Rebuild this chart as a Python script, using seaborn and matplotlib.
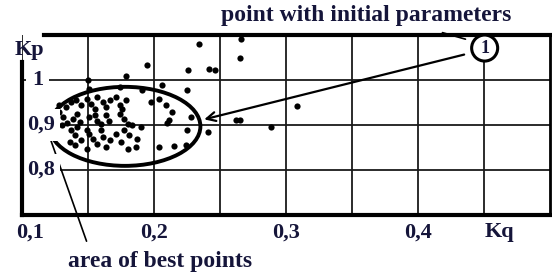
import matplotlib

matplotlib.use("Agg")
import matplotlib.pyplot as plt
import seaborn as sns
from matplotlib.patches import Ellipse

# scatter of tuning results (Kq, Kp)
kq = [
    0.195, 0.179, 0.226, 0.242, 0.246, 0.234, 0.266, 0.265, 0.225, 0.206,
    0.150, 0.308, 0.262, 0.265, 0.289, 0.241, 0.228, 0.225, 0.204, 0.215,
    0.224, 0.214, 0.209, 0.211, 0.210, 0.198, 0.204, 0.186, 0.187, 0.181,
    0.190, 0.183, 0.151, 0.174, 0.191,
    0.137, 0.141, 0.145, 0.149, 0.152, 0.155, 0.157, 0.161, 0.164, 0.167,
    0.171, 0.174, 0.176, 0.179,
    0.139, 0.142, 0.144, 0.151, 0.155, 0.157, 0.160, 0.164, 0.166, 0.174,
    0.177, 0.180,
    0.137, 0.140, 0.142, 0.145, 0.149, 0.151, 0.154, 0.157, 0.160, 0.161,
    0.164, 0.167, 0.171, 0.175, 0.177, 0.180, 0.136, 0.140, 0.149,
    0.128, 0.131, 0.133, 0.130, 0.134, 0.128,
]
kp = [
    1.033, 1.009, 1.022, 1.024, 1.022, 1.080, 1.091, 1.049, 0.978, 0.989,
    1.000, 0.942, 0.911, 0.911, 0.896, 0.884, 0.918, 0.889, 0.851, 0.853,
    0.856, 0.929, 0.944, 0.911, 0.904, 0.951, 0.958, 0.851, 0.869, 0.878,
    0.896, 0.900, 0.980, 0.984, 0.978,
    0.951, 0.955, 0.944, 0.958, 0.947, 0.936, 0.962, 0.951, 0.940, 0.955,
    0.962, 0.944, 0.936, 0.955,
    0.914, 0.925, 0.907, 0.918, 0.922, 0.910, 0.903, 0.922, 0.910, 0.925,
    0.914, 0.903,
    0.888, 0.877, 0.896, 0.866, 0.888, 0.881, 0.870, 0.858, 0.888, 0.873,
    0.851, 0.866, 0.881, 0.862, 0.888, 0.847, 0.862, 0.855, 0.847,
    0.930, 0.918, 0.940, 0.899, 0.905, 0.945,
]

grid_x = [0.1, 0.15, 0.2, 0.25, 0.3, 0.35, 0.4, 0.45]
x_labels = ["0,1", "0,2", "0,3", "0,4", "Kq"]
x_label_pos = [0.106, 0.2, 0.3, 0.4, 0.462]
y_ticks = [0.8, 0.9, 1.0]
y_labels = ["0,8", "0,9", "1"]
y_label_x = [0.009, 0.009, 0.019]

initial_kq, initial_kp = 0.4505, 1.071
best_center = (0.178, 0.897)
best_size = (0.1143, 0.1756)

TEXT = "#15153a"

sns.set_theme(style="white")
plt.rcParams["font.family"] = ["Liberation Serif", "DejaVu Serif"]
plt.rcParams["font.weight"] = "bold"

fig = plt.figure(figsize=(5.52, 2.72), dpi=100)
ax = fig.add_axes([22 / 552, 1 - 215 / 272, 528 / 552, 180 / 272])

sns.scatterplot(x=kq, y=kp, ax=ax, color="black", s=20, linewidth=0, zorder=3)

ax.set_xlim(0.1, 0.5)
ax.set_ylim(0.7, 1.1)
ax.set_xticks(grid_x)
ax.set_yticks(y_ticks)
ax.set_xticklabels([])
ax.set_yticklabels([])
ax.tick_params(length=0)
ax.grid(True, color="#1a1a1a", lw=1.3)
ax.set_axisbelow(True)

for side, lw in [("left", 3), ("bottom", 3), ("right", 2), ("top", 3)]:
    ax.spines[side].set_visible(True)
    ax.spines[side].set_color("black")
    ax.spines[side].set_linewidth(lw)
    ax.spines[side].set_zorder(6)
ax.spines["left"].set_bounds(0.7, 1.04)
ax.spines["top"].set_bounds(0.117, 0.5)

# tick labels, the y ones sit inside the frame on white
for pos, lab in zip(x_label_pos, x_labels):
    ax.text(pos, -0.095, lab, transform=ax.get_xaxis_transform(), ha="center",
            va="center", fontsize=16, color=TEXT)
for xpos, val, lab in zip(y_label_x, y_ticks, y_labels):
    ax.text(xpos, val, lab, transform=ax.get_yaxis_transform(), ha="left",
            va="center", fontsize=16, color=TEXT, zorder=5,
            bbox=dict(fc="white", ec="none", pad=4))
fig.text(29 / 552, 1 - 50 / 272, "Kp", ha="center", va="center", fontsize=16, color=TEXT)

# area of best points
ax.add_patch(Ellipse(best_center, best_size[0], best_size[1], fill=False,
                     ec="black", lw=2.8, zorder=4))
ax.annotate("", xy=(0.121, 0.873), xytext=(0.1496, 0.636),
            arrowprops=dict(arrowstyle="-", lw=1.2, color="black"),
            annotation_clip=False)
fig.text(160 / 552, 1 - 261 / 272, "area of best points", ha="center",
         va="center", fontsize=17, color=TEXT)

# initial point marker and arrow
ax.text(initial_kq, initial_kp, "1", ha="center", va="center", fontsize=13,
        color=TEXT, zorder=7, clip_on=False,
        bbox=dict(boxstyle="circle,pad=0.25", fc="white", ec="black", lw=2.2))
ax.annotate("", xy=(0.236, 0.911), xytext=(0.437, 1.058),
            arrowprops=dict(arrowstyle="->", lw=1.6, color="black", mutation_scale=16),
            zorder=6)
ax.annotate("", xy=(0.438, 1.089), xytext=(0.4165, 1.107),
            arrowprops=dict(arrowstyle="-", lw=1.2, color="black"),
            annotation_clip=False)
fig.text(366 / 552, 1 - 15 / 272, "point with initial parameters", ha="center",
         va="center", fontsize=17, color=TEXT)

fig.savefig("out.png", dpi=100)
